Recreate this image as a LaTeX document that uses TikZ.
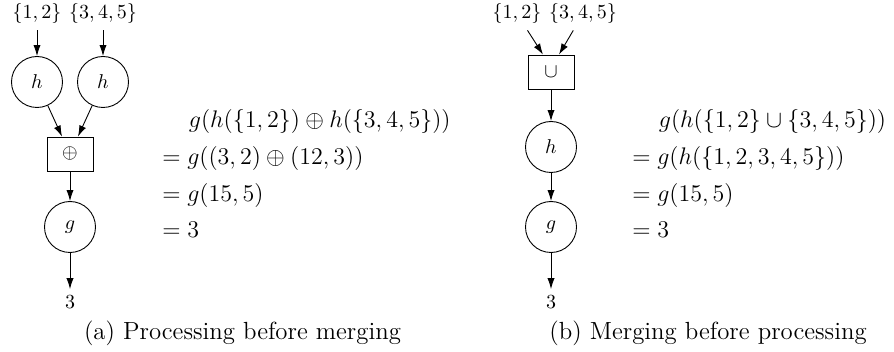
\documentclass[tikz,border=0pt]{standalone}
\usepackage{amsmath}
\usetikzlibrary{arrows.meta}
\begin{document}
\begin{tikzpicture}[x=0.5pt,y=-0.5pt,
  fn/.style={draw,circle,minimum size=25.5pt,inner sep=0pt,line width=0.45pt},
  opbox/.style={draw,rectangle,minimum width=23pt,minimum height=17pt,inner sep=0pt,line width=0.45pt},
  lbl/.style={inner sep=3pt,font=\fontsize{10.4}{12}\selectfont},
  arr/.style={-{Latex[length=5.5pt,width=3.6pt]},line width=0.45pt},
  eq/.style={anchor=base west,inner sep=0pt,font=\fontsize{12.6}{15}\selectfont},
  captext/.style={anchor=base,inner sep=0pt,font=\fontsize{12.4}{15}\selectfont}]
\path[use as bounding box] (0,0) rectangle (894,352);
% ---- (a) ----
\node[lbl] (a1) at (37,14) {$\{1,2\}$};
\node[lbl] (a2) at (103,14) {$\{3,4,5\}$};
\node[fn] (ah1) at (37,82) {$h$};
\node[fn] (ah2) at (103,82) {$h$};
\node[opbox] (aop) at (70,154) {$\oplus$};
\node[fn] (ag) at (70,227) {$g$};
\node[lbl] (aout) at (70,302) {$3$};
\draw[arr] (a1) -- (ah1);
\draw[arr] (a2) -- (ah2);
\draw[arr] (ah1) -- ([xshift=-4pt]aop.north);
\draw[arr] (ah2) -- ([xshift=4pt]aop.north);
\draw[arr] (aop) -- (ag);
\draw[arr] (ag) -- (aout);
\node[eq] (ae1) at (188.5,128) {$g(h(\{1,2\})\oplus h(\{3,4,5\}))$};
\node[eq] (ae2) at (162,164.7) {$=g((3,2)\oplus(12,3))$};
\node[eq] (ae3) at (162,201.3) {$=g(15,5)$};
\node[eq] (ae4) at (162,238) {$=3$};
\node[captext] (acap) at (242.5,339) {(a) Processing before merging};
% ---- (b) ----
\node[lbl] (b1) at (517,14) {$\{1,2\}$};
\node[lbl] (b2) at (583,14) {$\{3,4,5\}$};
\node[opbox] (bop) at (551,72) {$\cup$};
\node[fn] (bh) at (551,147) {$h$};
\node[fn] (bg) at (551,227) {$g$};
\node[lbl] (bout) at (551,302) {$3$};
\draw[arr] (b1) -- ([xshift=-4pt]bop.north);
\draw[arr] (b2) -- ([xshift=4pt]bop.north);
\draw[arr] (bop) -- (bh);
\draw[arr] (bh) -- (bg);
\draw[arr] (bg) -- (bout);
\node[eq] (be1) at (658.5,128) {$g(h(\{1,2\}\cup\{3,4,5\}))$};
\node[eq] (be2) at (632,164.7) {$=g(h(\{1,2,3,4,5\}))$};
\node[eq] (be3) at (632,201.3) {$=g(15,5)$};
\node[eq] (be4) at (632,238) {$=3$};
\node[captext] (bcap) at (708,339) {(b) Merging before processing};
\end{tikzpicture}
\end{document}
